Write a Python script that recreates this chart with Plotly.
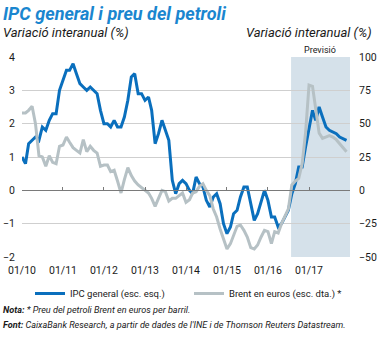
import pandas as pd
import plotly.graph_objects as go

months = pd.date_range("2010-01-01", periods=96, freq="MS")

ipc = [
    1.0, 0.8, 1.4, 1.5, 1.6, 1.5, 1.9, 1.8, 2.1, 2.3, 2.3, 3.0,
    3.3, 3.6, 3.6, 3.8, 3.5, 3.2, 3.1, 3.0, 3.1, 3.0, 2.9, 2.4,
    2.0, 2.0, 1.9, 2.1, 1.9, 1.9, 2.2, 2.7, 3.4, 3.5, 2.9, 2.9,
    2.7, 2.8, 2.4, 1.4, 1.7, 2.1, 1.8, 1.5, 0.3, -0.1, 0.2, 0.3,
    0.2, 0.0, -0.1, 0.4, 0.2, 0.1, -0.3, -0.5, -0.2, -0.1, -0.4, -1.0,
    -1.3, -1.1, -0.7, -0.6, -0.2, 0.1, 0.1, -0.4, -0.9, -0.7, -0.3, 0.0,
    -0.3, -0.8, -0.8, -1.1, -1.0, -0.8, -0.6, -0.1, 0.2, 0.7, 0.7, 1.3,
    1.9, 2.4, 2.1, 2.5, 2.2, 1.9, 1.8, 1.75, 1.7, 1.6, 1.55, 1.5,
]

brent = [
    58, 58, 60, 63, 50, 26, 25, 18, 26, 21, 20, 33,
    34, 40, 36, 32, 30, 28, 38, 29, 33, 30, 28, 18,
    19, 19, 14, 15, 7, -2, 8, 17, 11, 7, 4, 2,
    0, -2, -6, -12, -6, 0, -1, -8, -6, -6, -4, -2,
    -9, -7, -2, -1, 3, 5, 0, -4, -14, -20, -29, -36,
    -44, -40, -34, -27, -26, -30, -35, -43, -44, -41, -35, -30,
    -31, -40, -31, -32, -25, -20, -14, 4, 7, 9, 20, 43,
    79, 78, 60, 43, 39, 40, 41, 40, 38, 35, 32, 29,
]

year_ticks = [f"{y}-01-01" for y in range(2010, 2019)]
year_labels = ["01/10", "01/11", "01/12", "01/13", "01/14", "01/15", "01/16", "01/17", ""]
forecast_start = "2016-07-25"
forecast_end = "2018-01-01"

BLUE = "#0a6fbd"
GREY = "#b6c1c5"
TXT = "#1a1a1a"
FONT = "Liberation Sans Narrow, Roboto, sans-serif"
FONT2 = "Roboto, sans-serif"

fig = go.Figure()
fig.add_trace(go.Scatter(x=months, y=brent, mode="lines", name="Brent en euros (esc. dta.) *",
                         line=dict(color=GREY, width=3), yaxis="y2"))
fig.add_trace(go.Scatter(x=months, y=ipc, mode="lines", name="IPC general (esc. esq.)",
                         line=dict(color=BLUE, width=3), yaxis="y"))

fig.add_shape(type="rect", xref="x", yref="paper", x0=forecast_start, x1=forecast_end,
              y0=0, y1=1, fillcolor="#d5e1ea", line_width=0, layer="below")

fig.update_layout(
    width=380, height=338,
    margin=dict(l=22, r=30, t=57, b=81),
    paper_bgcolor="white", plot_bgcolor="rgba(0,0,0,0)",
    font=dict(family=FONT2, color=TXT, size=10),
    showlegend=True,
    legend=dict(orientation="h", x=8/328, xanchor="left", y=-0.11, yanchor="top",
                font=dict(size=9.5, family=FONT), traceorder="reversed",
                bgcolor="rgba(0,0,0,0)", itemwidth=30, tracegroupgap=0,
                entrywidth=114, entrywidthmode="pixels"),
    xaxis=dict(range=["2010-01-01", "2018-01-01"], tickvals=year_ticks, ticktext=year_labels,
               showgrid=False, showline=False, ticks="", zeroline=False, automargin=False,
               ticklabelstandoff=5, tickfont=dict(size=10.5)),
    xaxis2=dict(range=["2010-01-01", "2018-01-01"], overlaying="x", anchor="free", position=1/3,
                tickvals=year_ticks, showticklabels=False, showline=True, linecolor="#7a7a7a",
                linewidth=1, ticks="inside", ticklen=3, tickcolor="#7a7a7a", showgrid=False,
                automargin=False),
    yaxis=dict(range=[-2, 4], dtick=1, showgrid=True, gridcolor="#cfcfcf", gridwidth=1,
               zeroline=False, showline=False, ticks="", ticklabelstandoff=6, automargin=False,
               tickfont=dict(size=10.5)),
    yaxis2=dict(range=[-50, 100], dtick=25, overlaying="y", side="right", showgrid=False,
                zeroline=False, showline=False, ticks="", ticklabelstandoff=8, automargin=False,
                tickfont=dict(size=10.5)),
)
fig.add_trace(go.Scatter(x=[months[0]], y=[0], xaxis="x2", mode="markers",
                         marker=dict(opacity=0), showlegend=False, hoverinfo="skip"))

fig.add_annotation(text="<b><i>IPC general i preu del petroli</i></b>", xref="paper", yref="paper",
                   x=-21/328, y=1 + 56/200, xanchor="left", yanchor="top", showarrow=False,
                   font=dict(size=18, color="#1a86cf", family=FONT))
fig.add_annotation(text="<i>Variació interanual (%)</i>", xref="paper", yref="paper",
                   x=-21/328, y=1 + 34/200, xanchor="left", yanchor="top", showarrow=False,
                   font=dict(size=13, color=TXT, family=FONT2))
fig.add_annotation(text="<i>Variació interanual (%)</i>", xref="paper", yref="paper",
                   x=1 + 24/328, y=1 + 34/200, xanchor="right", yanchor="top", showarrow=False,
                   font=dict(size=13, color=TXT, family=FONT2))
fig.add_annotation(text="Previsió", xref="x", yref="paper", x="2017-04-10", y=1.0,
                   xanchor="center", yanchor="bottom", showarrow=False,
                   font=dict(size=9, color=TXT, family=FONT2))
fig.add_annotation(text="<b><i>Nota:</i></b><i> * Preu del petroli Brent en euros per barril.</i>",
                   xref="paper", yref="paper", x=-21/328, y=-46 / 200,
                   xanchor="left", yanchor="top", showarrow=False,
                   font=dict(size=9.1, color=TXT, family=FONT))
fig.add_annotation(text="<b><i>Font:</i></b><i> CaixaBank Research, a partir de dades de l'INE i de Thomson Reuters Datastream.</i>",
                   xref="paper", yref="paper", x=-21/328, y=-61 / 200,
                   xanchor="left", yanchor="top", showarrow=False,
                   font=dict(size=9.1, color=TXT, family=FONT))

fig.write_html("out.html")
